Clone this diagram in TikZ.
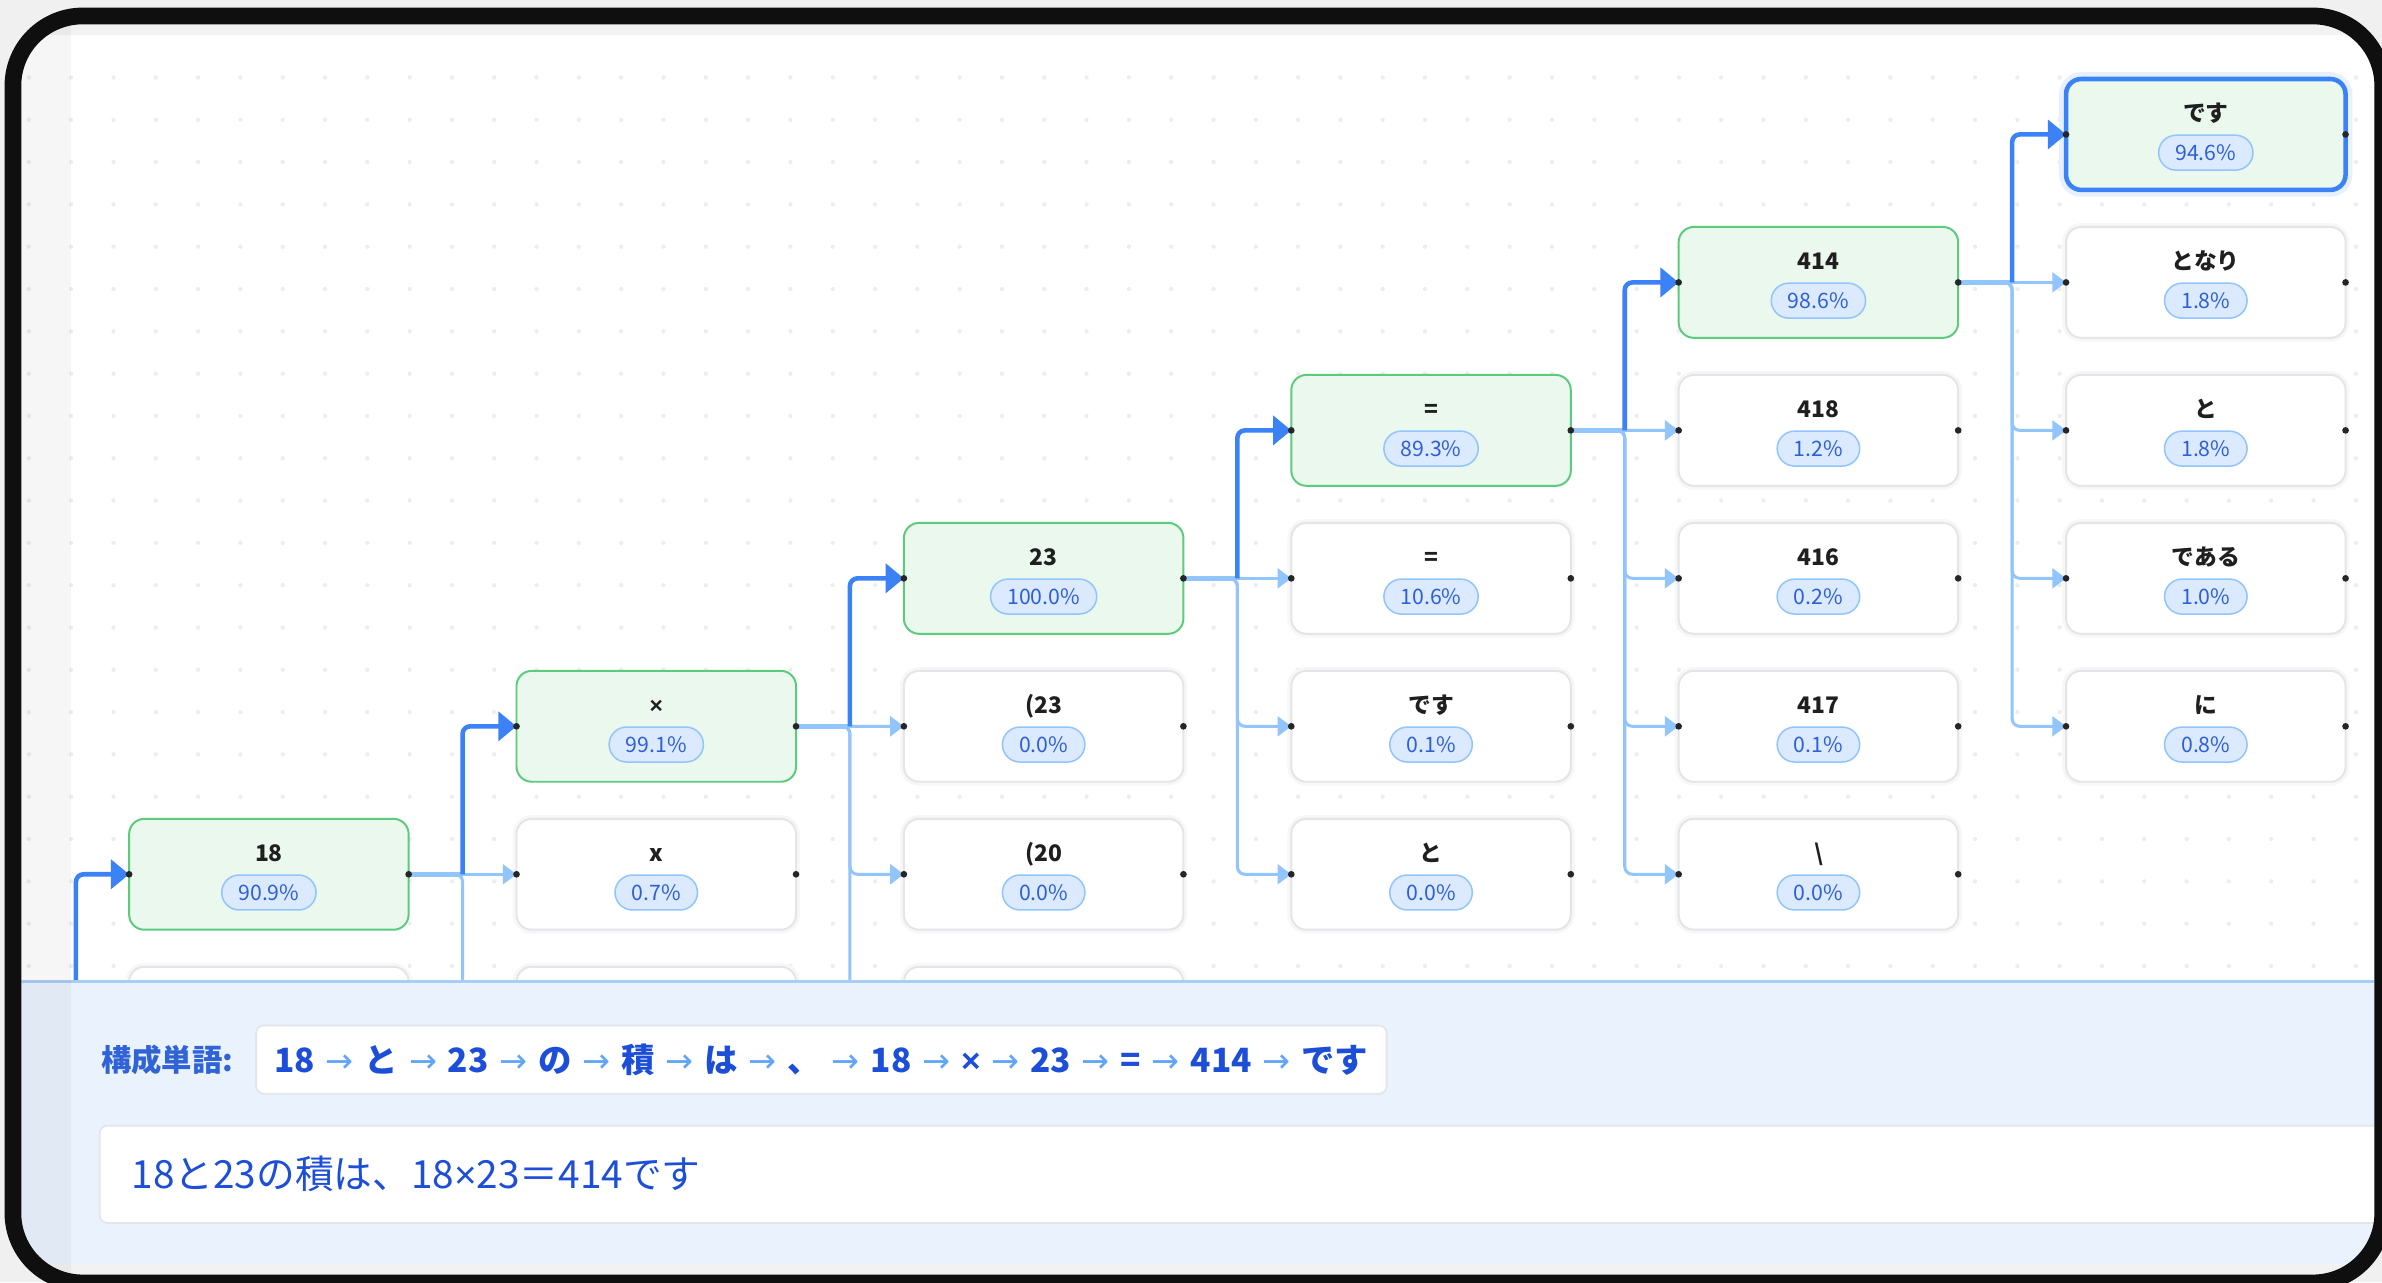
\documentclass[tikz,border=0pt]{standalone}
\usepackage{fontspec}
\setmainfont{Noto Sans CJK JP}
\newfontfamily\latinfont{Liberation Sans}
\newfontfamily\arrowfont{DejaVu Sans}
\usepackage{xcolor}
\usepackage{tikz}
\usetikzlibrary{
    arrows.meta,
    positioning
}
\definecolor{pathblue}{HTML}{3B82F6}
\definecolor{branchblue}{HTML}{93C5FD}
\definecolor{arrowblue}{HTML}{60A5FA}
\definecolor{pickfill}{HTML}{EAF8EE}
\definecolor{pickline}{HTML}{5CCB7D}
\definecolor{altline}{HTML}{E3E5E9}
\definecolor{pillfill}{HTML}{DBEAFE}
\definecolor{pilltext}{HTML}{2F5FD6}
\definecolor{panelblue}{HTML}{EAF3FD}
\definecolor{panelline}{HTML}{A9CDF6}
\definecolor{wordblue}{HTML}{1D4ED8}
\definecolor{captionblue}{HTML}{2F63D6}
\definecolor{titlegray}{HTML}{1F1F1F}
\definecolor{chrome}{HTML}{F2F2F2}
\tikzset{
    token/.style={
        rounded corners=10pt,
        minimum width=184pt,
        minimum height=73pt,
        outer sep=0pt,
        line width=1.3pt
    }
}
\tikzset{
    chosen/.style={
        token,
        draw=pickline,
        fill=pickfill
    }
}
\tikzset{
    alternative/.style={
        token,
        draw=altline,
        fill=white,
        preaction={draw=black!3, line width=5pt}
    }
}
\tikzset{
    final/.style={
        token,
        draw=pathblue,
        fill=pickfill,
        line width=3pt,
        preaction={draw=pillfill!70, line width=9pt}
    }
}
\tikzset{
    tokenword/.style={
        font=\bfseries\fontsize{15}{18}\selectfont,
        text=titlegray,
        inner sep=0pt
    }
}
\tikzset{
    sharepill/.style={
        draw=branchblue,
        fill=pillfill,
        line width=1pt,
        rounded corners=11.5pt,
        minimum height=23pt,
        inner xsep=11pt,
        inner ysep=0pt,
        text=pilltext,
        font=\fontsize{14}{16}\selectfont
    }
}
\tikzset{
    pickedge/.style={
        draw=pathblue,
        line width=3pt,
        rounded corners=5pt,
        -{Triangle[length=12pt,width=19pt]}
    }
}
\tikzset{
    branchedge/.style={
        draw=branchblue,
        line width=2pt,
        rounded corners=5pt,
        -{Triangle[length=9pt,width=13pt]}
    }
}
\tikzset{
    stubedge/.style={
        draw=branchblue,
        line width=3.5pt
    }
}
\tikzset{
    wordstrip/.style={
        draw=altline,
        fill=white,
        line width=1.2pt,
        rounded corners=5pt,
        minimum height=45pt,
        inner xsep=12pt,
        text=wordblue,
        font=\bfseries\fontsize{22}{26}\selectfont
    }
}
\tikzset{
    sentencebox/.style={
        draw=altline,
        fill=white,
        line width=1.2pt,
        rounded corners=5pt,
        minimum height=64pt,
        text width=1500pt,
        align=left,
        inner xsep=21pt,
        text=wordblue,
        font=\fontsize{25.5}{30}\selectfont
    }
}
% one candidate token: box, word and share pill
\newcommand{\tokenbox}[5]{%
    \node[#1, #3] (#2) {};
    \node[tokenword, anchor=base] (#2-w) at ([yshift=8.5pt]#2.center) {#4};
    \node[sharepill] (#2-s) at ([yshift=-12pt]#2.center) {#5\%};
}
\newcommand{\thento}{\kern2.1pt\textcolor{arrowblue}{\arrowfont\mdseries →}\kern2.1pt}
\newcommand{\mul}{{\latinfont ×}}

\begin{document}
\begin{tikzpicture}[x=1pt, y=-1pt]

\useasboundingbox (0,0) rectangle (1568,844);
\begin{scope}
\clip (0,0) rectangle (1568,844);
\fill[black!6] (0,0) rectangle (1568,844);

\begin{scope}
\clip[rounded corners=40pt] (14,16) rectangle (1563,839);
\fill[chrome] (14,16) rectangle (1563,839);
\fill[white] (14,23) rectangle (1563,646);
% dotted canvas
\foreach \i in {0,...,55}
    \foreach \j in {0,...,21}
        \fill[black!7] ({19+27.85*\i},{51+27.85*\j}) circle (1.4pt);

% candidates, column by column
\tokenbox{chosen}{c1a}{at={(177,575.5)}}{18}{90.9}
\node[alternative, below=24.4pt of c1a] (c1b) {};

\tokenbox{chosen}{c2a}{at={(432,478.1)}}{\mul}{99.1}
\tokenbox{alternative}{c2b}{below=24.4pt of c2a}{x}{0.7}
\node[alternative, below=24.4pt of c2b] (c2c) {};

\tokenbox{chosen}{c3a}{at={(687,380.7)}}{23}{100.0}
\tokenbox{alternative}{c3b}{below=24.4pt of c3a}{(23}{0.0}
\tokenbox{alternative}{c3c}{below=24.4pt of c3b}{(20}{0.0}
\node[alternative, below=24.4pt of c3c] (c3d) {};

\tokenbox{chosen}{c4a}{at={(942,283.3)}}{=}{89.3}
\tokenbox{alternative}{c4b}{below=24.4pt of c4a}{=}{10.6}
\tokenbox{alternative}{c4c}{below=24.4pt of c4b}{です}{0.1}
\tokenbox{alternative}{c4d}{below=24.4pt of c4c}{と}{0.0}

\tokenbox{chosen}{c5a}{at={(1197,185.9)}}{414}{98.6}
\tokenbox{alternative}{c5b}{below=24.4pt of c5a}{418}{1.2}
\tokenbox{alternative}{c5c}{below=24.4pt of c5b}{416}{0.2}
\tokenbox{alternative}{c5d}{below=24.4pt of c5c}{417}{0.1}
\tokenbox{alternative}{c5e}{below=24.4pt of c5d}{\textbackslash}{0.0}

\tokenbox{final}{c6a}{at={(1452,88.5)}}{です}{94.6}
\tokenbox{alternative}{c6b}{below=24.4pt of c6a}{となり}{1.8}
\tokenbox{alternative}{c6c}{below=24.4pt of c6b}{と}{1.8}
\tokenbox{alternative}{c6d}{below=24.4pt of c6c}{である}{1.0}
\tokenbox{alternative}{c6e}{below=24.4pt of c6d}{に}{0.8}

% branches to the candidates
\coordinate (entry) at (50,700);
\draw[pickedge] (entry) |- (c1a.west);

\draw[branchedge] (c1a.east) -- (c2b.west);
\draw[branchedge] (c1a.east) -- ++(35.5,0) |- (c2c.west);
\draw[stubedge] (c1a.east) -- ++(35.5,0) coordinate (bus2);
\draw[pickedge] (bus2) |- (c2a.west);

\draw[branchedge] (c2a.east) -- (c3b.west);
\foreach \alt in {c3c,c3d}
    \draw[branchedge] (c2a.east) -- ++(35.5,0) |- (\alt.west);
\draw[stubedge] (c2a.east) -- ++(35.5,0) coordinate (bus3);
\draw[pickedge] (bus3) |- (c3a.west);

\draw[branchedge] (c3a.east) -- (c4b.west);
\foreach \alt in {c4c,c4d}
    \draw[branchedge] (c3a.east) -- ++(35.5,0) |- (\alt.west);
\draw[stubedge] (c3a.east) -- ++(35.5,0) coordinate (bus4);
\draw[pickedge] (bus4) |- (c4a.west);

\draw[branchedge] (c4a.east) -- (c5b.west);
\foreach \alt in {c5c,c5d,c5e}
    \draw[branchedge] (c4a.east) -- ++(35.5,0) |- (\alt.west);
\draw[stubedge] (c4a.east) -- ++(35.5,0) coordinate (bus5);
\draw[pickedge] (bus5) |- (c5a.west);

\draw[branchedge] (c5a.east) -- (c6b.west);
\foreach \alt in {c6c,c6d,c6e}
    \draw[branchedge] (c5a.east) -- ++(35.5,0) |- (\alt.west);
\draw[stubedge] (c5a.east) -- ++(35.5,0) coordinate (bus6);
\draw[pickedge] (bus6) |- (c6a.west);

% port dots
\foreach \t in {c1a,c2a,c2b,c3a,c3b,c3c,c4a,c4b,c4c,c4d,
                c5a,c5b,c5c,c5d,c5e,c6a,c6b,c6c,c6d,c6e}
    \fill[black!85] (\t.west) circle (2.2pt) (\t.east) circle (2.2pt);

% result panel
\fill[panelblue] (14,646) rectangle (1563,839);
\draw[panelline, line width=1.5pt] (14,646) -- (1563,646);
\fill[chrome] (14,832) rectangle (1563,839);
\fill[black, opacity=.035] (14,16) rectangle (47,839);

\node[anchor=west, text=captionblue, font=\bfseries\fontsize{20}{24}\selectfont]
    (caption) at (63,697.5) {構成単語:};
\node[wordstrip, anchor=west] (words) at (168,697.5)
    {18 \thento{} と \thento{} 23 \thento{} の \thento{} 積 \thento{} は \thento{} 、
     \thento{} 18 \thento{} \mul{} \thento{} 23 \thento{} = \thento{} 414 \thento{} です};
\node[sentencebox, anchor=west] (sentence) at (65,773)
    {18と23の積は、18\mul{}23＝414です};
\end{scope}

\draw[black!94, line width=11pt, rounded corners=46pt]
    (8.5,10.5) rectangle (1568.5,844.5);
\end{scope}

\end{tikzpicture}
\end{document}
